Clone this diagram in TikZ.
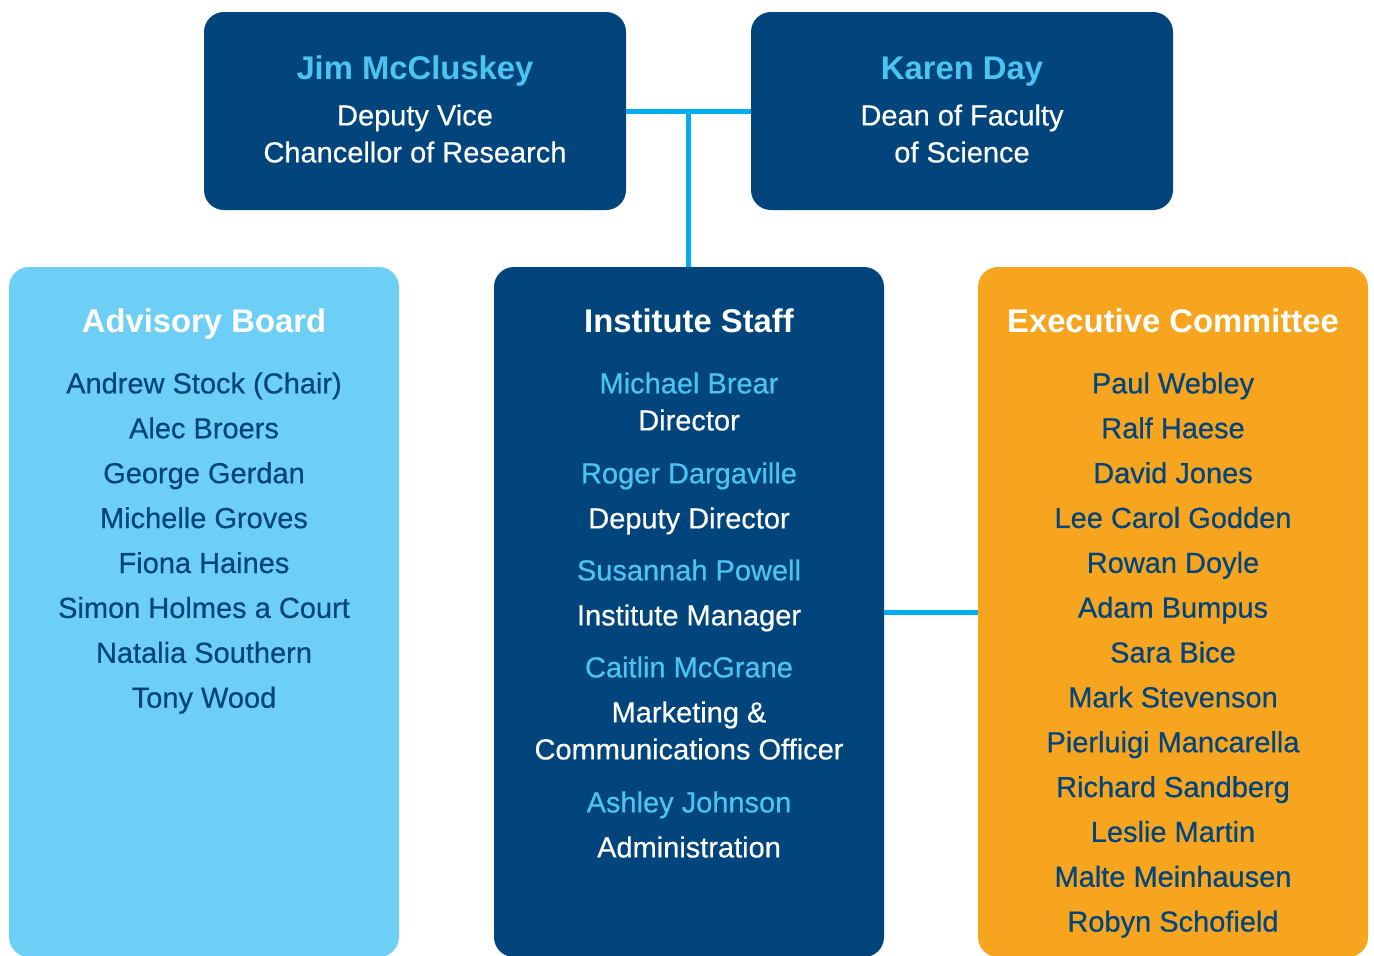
\documentclass[tikz,border=0pt]{standalone}
\usepackage{fontspec}
\setmainfont{Liberation Sans}
\newfontfamily\medfont[FakeBold=0.5]{Liberation Sans}
\usetikzlibrary{calc}

\definecolor{navy}{HTML}{01457C}
\definecolor{skyfill}{HTML}{6DCFF6}
\definecolor{orangefill}{HTML}{F7A51E}
\definecolor{linkblue}{HTML}{00AEEF}
\definecolor{namelight}{HTML}{4CC4F2}

\tikzset{
  topbox/.style={fill=navy,rounded corners=10pt,minimum width=211pt,minimum height=99pt,inner sep=0pt},
  listbox/.style={rounded corners=10pt,minimum width=195pt,minimum height=345pt,inner sep=0pt},
  link/.style={draw=linkblue,line width=2.5pt},
  head/.style={font=\bfseries\fontsize{16.4}{18}\selectfont,inner sep=0pt,text height=11.7pt,text depth=0pt},
  entry/.style={font=\medfont\fontsize{14.5}{17}\selectfont,inner sep=0pt,text height=10.4pt,text depth=0pt},
}

\begin{document}
\begin{tikzpicture}[x=0.5pt,y=-0.5pt]
  \clip (0,0) rectangle (1374,955);
  \fill[white] (0,0) rectangle (1374,955);

  % top row
  \node[topbox] (jim) at (415,111) {};
  \node[topbox] (karen) at (962,111) {};
  \node[head,namelight] (jimname) at (415,68) {Jim McCluskey};
  \node[entry,white] (jimrole1) at (415,115) {Deputy Vice};
  \node[entry,white] (jimrole2) at (415,152) {Chancellor of Research};
  \node[head,namelight] (karenname) at (962,68) {Karen Day};
  \node[entry,white] (karenrole1) at (962,115) {Dean of Faculty};
  \node[entry,white] (karenrole2) at (962,152) {of Science};

  % three columns
  \node[listbox,fill=skyfill] (advisory) at (204,612) {};
  \node[listbox,fill=navy] (staff) at (689,612) {};
  \node[listbox,fill=orangefill] (exec) at (1173,612) {};

  % connectors
  \coordinate (joint) at ($(jim.east)!0.5!(karen.west)$);
  \draw[link] (jim.east) -- (karen.west);
  \draw[link] (joint) -- (joint |- staff.north);
  \draw[link] (staff.east) -- (exec.west);

  % advisory board
  \node[head,white] (advhead) at (204,321) {Advisory Board};
  \foreach \who [count=\i] in {{Andrew Stock (Chair)},{Alec Broers},{George Gerdan},
      {Michelle Groves},{Fiona Haines},{Simon Holmes a Court},{Natalia Southern},{Tony Wood}}
    \node[entry,navy] (adv\i) at (204,{383+44.9*(\i-1)}) {\who};

  % institute staff
  \node[head,white] (staffhead) at (689,321) {Institute Staff};
  \node[entry,namelight] (brear) at (689,383) {Michael Brear};
  \node[entry,white] (brearrole) at (689,420) {Director};
  \node[entry,namelight] (dargaville) at (689,473) {Roger Dargaville};
  \node[entry,white] (dargavillerole) at (689,518) {Deputy Director};
  \node[entry,namelight] (powell) at (689,570) {Susannah Powell};
  \node[entry,white] (powellrole) at (689,615) {Institute Manager};
  \node[entry,namelight] (mcgrane) at (689,667) {Caitlin McGrane};
  \node[entry,white] (mcgranerole1) at (689,712) {Marketing \&};
  \node[entry,white] (mcgranerole2) at (689,749) {Communications Officer};
  \node[entry,namelight] (johnson) at (689,802) {Ashley Johnson};
  \node[entry,white] (johnsonrole) at (689,847) {Administration};

  % executive committee
  \node[head,white] (exechead) at (1173,321) {Executive Committee};
  \foreach \who [count=\i] in {{Paul Webley},{Ralf Haese},{David Jones},{Lee Carol Godden},
      {Rowan Doyle},{Adam Bumpus},{Sara Bice},{Mark Stevenson},{Pierluigi Mancarella},
      {Richard Sandberg},{Leslie Martin},{Malte Meinhausen},{Robyn Schofield}}
    \node[entry,navy] (ex\i) at (1173,{383+44.85*(\i-1)}) {\who};
\end{tikzpicture}
\end{document}
